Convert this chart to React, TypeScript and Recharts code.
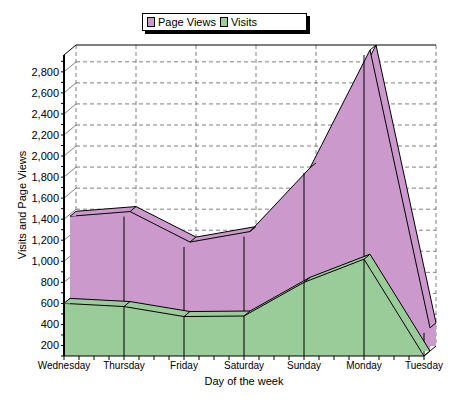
import React from "react";
import {
  ComposedChart,
  Area,
  Line,
  ErrorBar,
  XAxis,
  YAxis,
  CartesianGrid,
  ReferenceLine,
} from "recharts";

const DAYS = ["Wednesday", "Thursday", "Friday", "Saturday", "Sunday", "Monday", "Tuesday"];
const PAGE_VIEWS = [1380, 1425, 1135, 1235, 1840, 2960, 320];
const VISITS = [600, 570, 475, 480, 800, 1020, 100];

const Y_MIN = 100;
const Y_MAX = 2960;
const Y_TICKS = [100, 200, 300, 400, 500, 600, 700, 800, 900, 1000, 1100, 1200, 1300, 1400, 1500,
  1600, 1700, 1800, 1900, 2000, 2100, 2200, 2300, 2400, 2500, 2600, 2700, 2800, 2900];
const GRID_Y = [200, 400, 600, 800, 1000, 1200, 1400, 1600, 1800, 2000, 2200, 2400, 2600, 2800];
const X_TICKS = [0, 0.25, 0.5, 0.75, 1, 1.25, 1.5, 1.75, 2, 2.25, 2.5, 2.75, 3, 3.25, 3.5, 3.75,
  4, 4.25, 4.5, 4.75, 5, 5.25, 5.5, 5.75, 6];
const GRID_X = [0, 1, 2, 3, 4, 5, 6];

const PURPLE = "#cc99cc";
const GREEN = "#99cc99";
const FONT = '"Liberation Sans", Arial, sans-serif';
// near-black used only to pick out the page-view edge lines for the depth shift
const PV_EDGE = "#010101";

// depth of the whole 3d box, each series takes half of it
const DX = 12;
const DY = -10;

const data = DAYS.map((day, i) => ({
  i,
  day,
  pageViews: PAGE_VIEWS[i],
  visits: VISITS[i],
}));

const css = `
.recharts-cartesian-grid, .back-full path { transform: translate(${DX}px, ${DY}px); }
.back-half path, .shift-half, line[stroke="${PV_EDGE}"] { transform: translate(${DX / 2}px, ${DY / 2}px); }
`;

const bevelDot = (fill: string, shifted: boolean) => (p: any) => {
  const { cx, cy, index } = p;
  if (cx == null || cy == null) return <g key={`n${index}`} />;
  const hx = DX / 2;
  const hy = DY / 2;
  return (
    <g key={`d${index}`} className={shifted ? "shift-half" : undefined}>
      {index === 0 && (
        <polygon points={`${cx},${cy} ${cx + hx},${cy + hy} ${cx + hx},${cy}`} fill={fill} />
      )}
      <line x1={cx} y1={cy} x2={cx + hx} y2={cy + hy} stroke="#000" />
    </g>
  );
};

const wallTop = (p: any) => (
  <g>
    <line x1={p.x1} y1={p.y1} x2={p.x1 + DX} y2={p.y1 + DY} stroke="#000" />
    <line x1={p.x1 + DX} y1={p.y1 + DY} x2={p.x2 + DX} y2={p.y2 + DY} stroke="#000" />
  </g>
);

const tickDiag = (p: any) => (
  <line x1={p.x1} y1={p.y1} x2={p.x1 + DX} y2={p.y1 + DY} stroke="#808080" />
);

const floorEdge = (p: any) => (
  <line x1={p.x2} y1={p.y2} x2={p.x2 + DX} y2={p.y2 + DY} stroke="#000" />
);

function LegendBox() {
  const swatch = (c: string) => (
    <span
      style={{
        display: "inline-block",
        width: 6,
        height: 8,
        background: c,
        border: "1px solid #000",
        marginRight: 3,
      }}
    />
  );
  return (
    <div
      style={{
        position: "absolute",
        left: 142,
        top: 13,
        width: 165,
        height: 18,
        boxSizing: "border-box",
        border: "1px solid #000",
        background: "#fff",
        boxShadow: "3px 3px 0 #000",
        display: "flex",
        alignItems: "center",
        paddingLeft: 4,
        fontSize: 11,
        color: "#000",
      }}
    >
      {swatch(PURPLE)}
      <span style={{ marginRight: 4 }}>Page Views</span>
      {swatch(GREEN)}
      <span>Visits</span>
    </div>
  );
}

export default function App() {
  return (
    <div
      style={{
        position: "absolute",
        left: 0,
        top: 0,
        width: 450,
        height: 400,
        background: "#fff",
        fontFamily: FONT,
      }}
    >
      <style>{css}</style>
      <ComposedChart
        width={450}
        height={400}
        data={data}
        margin={{ top: 55, right: 26, bottom: 24, left: 24 }}
      >
        <CartesianGrid
          stroke="#808080"
          strokeDasharray="4 3"
          horizontalValues={GRID_Y}
          verticalValues={GRID_X}
          zIndex={10}
        />
        <XAxis
          dataKey="i"
          type="number"
          domain={[0, 6]}
          ticks={X_TICKS}
          interval={0}
          height={20}
          tickSize={4}
          tickMargin={2}
          tickFormatter={(v: number) => (Number.isInteger(v) ? DAYS[v] : "")}
          tick={{ fontSize: 10, fill: "#000" }}
          axisLine={{ stroke: "#000" }}
          tickLine={{ stroke: "#000" }}
        />
        <YAxis
          type="number"
          domain={[Y_MIN, Y_MAX]}
          ticks={Y_TICKS}
          interval={0}
          width={40}
          tickSize={3}
          tickMargin={2}
          tickFormatter={(v: number) => (v % 200 === 0 ? v.toLocaleString("en-US") : "")}
          tick={{ fontSize: 11, fill: "#000" }}
          axisLine={{ stroke: "#000", strokeWidth: 2 }}
          tickLine={{ stroke: "#000" }}
        />
        {GRID_Y.map((v) => (
          <ReferenceLine key={v} y={v} shape={tickDiag} zIndex={20} />
        ))}
        <ReferenceLine y={Y_MAX} shape={wallTop} zIndex={20} />
        <ReferenceLine y={Y_MIN} shape={floorEdge} zIndex={20} />

        <Area
          className="back-full"
          type="linear"
          dataKey="pageViews"
          fill={PURPLE}
          fillOpacity={1}
          stroke="#000"
          dot={false}
          activeDot={false}
          isAnimationActive={false}
          zIndex={30}
        />
        <Area
          className="back-half"
          type="linear"
          dataKey="pageViews"
          fill={PURPLE}
          fillOpacity={1}
          stroke="#000"
          dot={bevelDot(PURPLE, true)}
          activeDot={false}
          isAnimationActive={false}
          zIndex={40}
        />
        <Line
          dataKey="pageViews"
          stroke="none"
          dot={false}
          activeDot={false}
          isAnimationActive={false}
          zIndex={50}
        >
          <ErrorBar
            dataKey={(d: any) => [d.pageViews - Y_MIN, 0]}
            direction="y"
            width={0}
            stroke={PV_EDGE}
            strokeWidth={1}
            isAnimationActive={false}
            zIndex={50}
          />
        </Line>

        <Area
          className="back-half"
          type="linear"
          dataKey="visits"
          fill={GREEN}
          fillOpacity={1}
          stroke="#000"
          dot={false}
          activeDot={false}
          isAnimationActive={false}
          zIndex={60}
        />
        <Area
          type="linear"
          dataKey="visits"
          fill={GREEN}
          fillOpacity={1}
          stroke="#000"
          dot={bevelDot(GREEN, false)}
          activeDot={false}
          isAnimationActive={false}
          zIndex={70}
        />
        <Line
          dataKey="visits"
          stroke="none"
          dot={false}
          activeDot={false}
          isAnimationActive={false}
          zIndex={80}
        >
          <ErrorBar
            dataKey={(d: any) => [d.visits - Y_MIN, 0]}
            direction="y"
            width={0}
            stroke="#000"
            strokeWidth={1}
            isAnimationActive={false}
            zIndex={80}
          />
        </Line>
      </ComposedChart>
      <LegendBox />
      <div
        style={{
          position: "absolute",
          left: 22,
          top: 205,
          transform: "translate(-50%, -50%) rotate(-90deg)",
          whiteSpace: "nowrap",
          fontSize: 11,
          color: "#000",
        }}
      >
        Visits and Page Views
      </div>
      <div
        style={{
          position: "absolute",
          left: 244,
          top: 381,
          transform: "translate(-50%, -50%)",
          whiteSpace: "nowrap",
          fontSize: 11,
          color: "#000",
        }}
      >
        Day of the week
      </div>
    </div>
  );
}
